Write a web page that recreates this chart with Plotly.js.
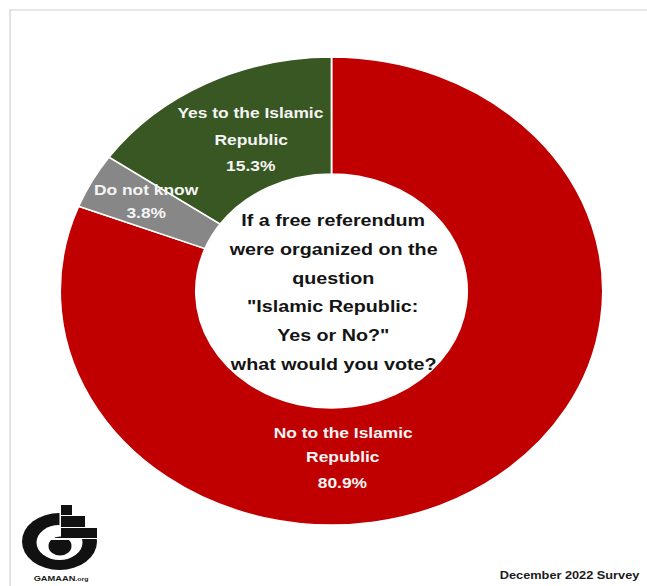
<!DOCTYPE html>
<html><head><meta charset="utf-8">
<script src="https://cdn.plot.ly/plotly-3.0.1.min.js"></script>
<style>
html,body{margin:0;padding:0;background:#fff;overflow:hidden;width:647px;height:586px}
#chart{width:558px;height:586px;transform:scaleX(1.1595);transform-origin:0 0}
</style></head><body><div id="chart"></div>
<script>
// ---- data ----
const categories = ["No to the Islamic Republic", "Do not know", "Yes to the Islamic Republic"];
const labelLines = [["No to the Islamic", "Republic"], ["Do not know"], ["Yes to the Islamic", "Republic"]];
const shares = [80.9, 3.8, 15.3];
const questionLines = ["If a free referendum", "were organized on the", "question", "\"Islamic Republic:", "Yes or No?\"", "what would you vote?"];
const footnote = "December 2022 Survey";
const brand = "GAMAAN";
const brandSuffix = ".org";

// ---- layout helpers (reference pixel -> paper) ----
const PW = 647, PH = 586;
const px = x => x / PW;
const py = y => 1 - y / PH;

const colors = ["#c00000", "#878787", "#385723"];
const labelAnchors = [[343, 432, 25], [146, 189, 24], [251, 113, 26]];

const annotations = [];
categories.forEach((c, i) => {
  const [x0, y0, dy] = labelAnchors[i];
  const lines = labelLines[i].concat([shares[i].toFixed(1) + "%"]);
  lines.forEach((t, k) => {
    annotations.push({text: t, x: px(x0), y: py(y0 + k * dy), xref: "paper", yref: "paper",
      xanchor: "center", yanchor: "middle", showarrow: false,
      font: {family: "Liberation Sans, Arial, sans-serif", size: 15, color: "#f4f4f4", weight: 700}});
  });
});
questionLines.forEach((t, k) => {
  annotations.push({text: t, x: px(333), y: py(221 + k * 28.6), xref: "paper", yref: "paper",
    xanchor: "center", yanchor: "middle", showarrow: false,
    font: {family: "Liberation Sans, Arial, sans-serif", size: 17, color: "#141414", weight: 700}});
});
annotations.push({text: footnote, x: px(642), y: py(575), xref: "paper", yref: "paper",
  xanchor: "right", yanchor: "middle", showarrow: false,
  font: {family: "Liberation Sans, Arial, sans-serif", size: 11, color: "#1a1a1a", weight: 700}});
annotations.push({text: brand + "<span style='font-size:6px'>" + brandSuffix + "</span>",
  x: px(31), y: py(578), xref: "paper", yref: "paper",
  xanchor: "left", yanchor: "middle", showarrow: false,
  font: {family: "Liberation Sans, Arial, sans-serif", size: 8, color: "#1a1a1a", weight: 700}});

// ---- logo & frame shapes ----
const shapes = [];
function ell(cx, cy, rx, ry, fill) {
  shapes.push({type: "circle", xref: "paper", yref: "paper", x0: px(cx - rx), x1: px(cx + rx),
    y0: py(cy + ry), y1: py(cy - ry), fillcolor: fill, line: {width: 0}, layer: "above"});
}
function rect(xa, ya, xb, yb, fill) {
  shapes.push({type: "rect", xref: "paper", yref: "paper", x0: px(xa), x1: px(xb),
    y0: py(yb), y1: py(ya), fillcolor: fill, line: {width: 0}, layer: "above"});
}
// frame
shapes.push({type: "line", xref: "paper", yref: "paper", x0: px(9), x1: 1, y0: py(10), y1: py(10), line: {color: "#dedede", width: 1.5}});
shapes.push({type: "line", xref: "paper", yref: "paper", x0: px(10), x1: px(10), y0: py(10), y1: 0, line: {color: "#dedede", width: 1.5}});
// logo
ell(59.5, 541.5, 37.5, 28.5, "#111");
ell(59.5, 542.5, 23, 17.5, "#fff");
rect(59.5, 500, 100, 539, "#fff");
rect(61, 505, 72, 515, "#111");
rect(61, 516, 85, 527, "#111");
rect(61, 528, 97, 538, "#111");
ell(60, 546, 11.5, 9.5, "#111");
rect(45, 538, 76, 540, "#fff");

const data = [{
  type: "pie",
  labels: categories,
  values: shares,
  hole: 0.5,
  sort: false,
  direction: "clockwise",
  rotation: 0,
  textinfo: "none",
  hoverinfo: "none",
  showlegend: false,
  marker: {colors: colors, line: {color: "#ffffff", width: 1.5}},
  domain: {x: [px(60), px(603)], y: [py(525), py(57)]}
}];

const layout = {
  width: 558, height: 586,
  margin: {l: 0, r: 0, t: 0, b: 0},
  paper_bgcolor: "#ffffff",
  plot_bgcolor: "#ffffff",
  showlegend: false,
  annotations: annotations,
  shapes: shapes
};

Plotly.newPlot("chart", data, layout, {displayModeBar: false, staticPlot: true});
</script></body></html>
